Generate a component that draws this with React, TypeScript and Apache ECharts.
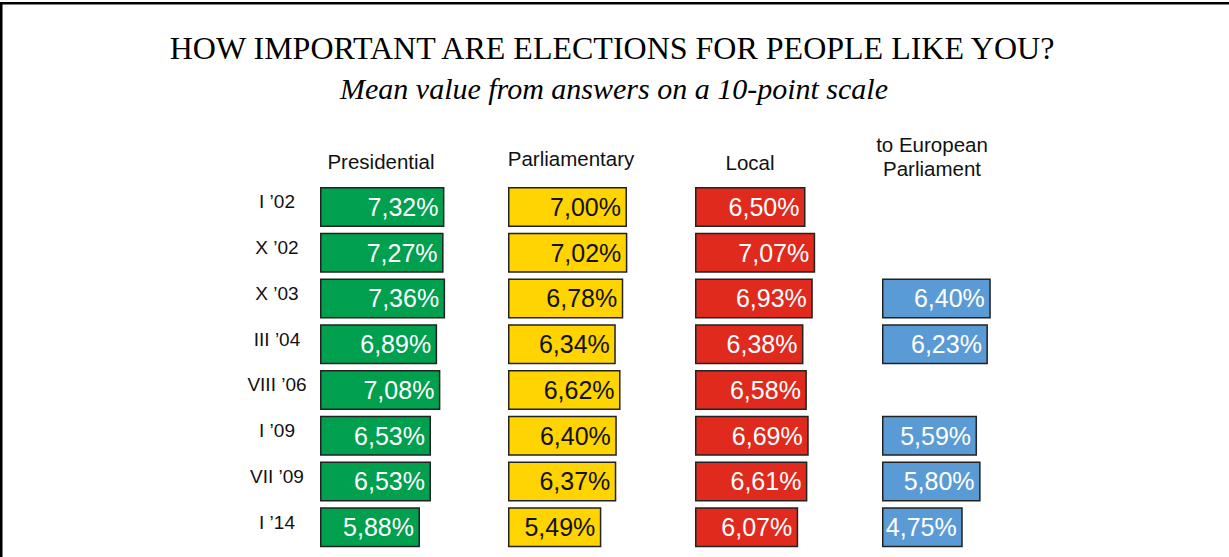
import React, { useEffect, useRef } from "react";
import * as echarts from "echarts";

const categories = ["I ’02", "X ’02", "X ’03", "III ’04", "VIII ’06", "I ’09", "VII ’09", "I ’14"];
const presidential = [7.32, 7.27, 7.36, 6.89, 7.08, 6.53, 6.53, 5.88];
const parliamentary = [7.0, 7.02, 6.78, 6.34, 6.62, 6.4, 6.37, 5.49];
const local = [6.5, 7.07, 6.93, 6.38, 6.58, 6.69, 6.61, 6.07];
const european = [null, null, 6.4, 6.23, null, 5.59, 5.8, 4.75];
const columnTitles = ["Presidential", "Parliamentary", "Local", "to European\nParliament"];
const title = "HOW IMPORTANT ARE ELECTIONS FOR PEOPLE LIKE YOU?";
const subtitle = "Mean value from answers on a 10-point scale";

const seriesList = [presidential, parliamentary, local, european];
const colors = ["#00A04F", "#FFD400", "#E02A1E", "#5B9BD5"];
const labelColors = ["#ffffff", "#111111", "#ffffff", "#ffffff"];
const lefts = [320, 508, 695, 882];
const headerPos = [
  [381, 161],
  [571, 158],
  [750, 162],
  [932, 156],
];

const fmt = (v: number) => v.toFixed(2).replace(".", ",") + "%";

export default function App() {
  const ref = useRef<HTMLDivElement>(null);
  useEffect(() => {
    if (!ref.current) return;
    const chart = echarts.init(ref.current, undefined, { renderer: "svg" });
    const grids = lefts.map((l) => ({ left: l, top: 184, width: 170, height: 366 }));
    const xAxes = lefts.map((_, i) => ({
      type: "value",
      gridIndex: i,
      min: 0,
      max: 10,
      show: false,
    }));
    const yAxes = lefts.map((_, i) => ({
      type: "category",
      gridIndex: i,
      data: categories,
      inverse: true,
      axisLine: { show: false },
      axisTick: { show: false },
      splitLine: { show: false },
      axisLabel: {
        show: i === 0,
        margin: 43,
        align: "center",
        formatter: (v: string) => "{a|" + v + "}",
        rich: {
          a: {
            fontFamily: "Liberation Sans, Arial, sans-serif",
            fontSize: 19,
            color: "#111",
            padding: [0, 0, 10, 0],
          },
        },
      },
    }));
    const series = seriesList.map((data, i) => ({
      type: "bar",
      xAxisIndex: i,
      yAxisIndex: i,
      data,
      barWidth: 40,
      itemStyle: { color: colors[i], borderColor: "#222", borderWidth: 1.5 },
      label: {
        show: true,
        position: "insideRight",
        distance: 6,
        color: labelColors[i],
        fontFamily: "Liberation Sans, Arial, sans-serif",
        fontSize: 25,
        formatter: (p: any) => fmt(p.value),
      },
    }));
    const graphic: any[] = [
      { type: "rect", shape: { x: 0, y: 2, width: 1229, height: 2.5 }, style: { fill: "#000" } },
      { type: "rect", shape: { x: 0, y: 2, width: 2.5, height: 555 }, style: { fill: "#000" } },
      {
        type: "text",
        x: 612,
        y: 48,
        style: {
          text: title,
          fontFamily: "Liberation Serif, Times New Roman, serif",
          fontSize: 32,
          fill: "#000",
          align: "center",
          verticalAlign: "middle",
        },
      },
      {
        type: "text",
        x: 614,
        y: 88,
        style: {
          text: subtitle,
          fontFamily: "Liberation Serif, Times New Roman, serif",
          fontStyle: "italic",
          fontSize: 30,
          fill: "#000",
          align: "center",
          verticalAlign: "middle",
        },
      },
      ...columnTitles.map((t, i) => ({
        type: "text",
        x: headerPos[i][0],
        y: headerPos[i][1],
        style: {
          text: t,
          fontFamily: "Liberation Sans, Arial, sans-serif",
          fontSize: 20.5,
          lineHeight: 24,
          fill: "#111",
          align: "center",
          verticalAlign: "middle",
        },
      })),
    ];
    chart.setOption({
      animation: false,
      grid: grids,
      xAxis: xAxes,
      yAxis: yAxes,
      series,
      graphic,
    });
    return () => chart.dispose();
  }, []);
  return (
    <div
      ref={ref}
      style={{ position: "absolute", left: 0, top: 0, width: 1229, height: 557, background: "#fff" }}
    />
  );
}
